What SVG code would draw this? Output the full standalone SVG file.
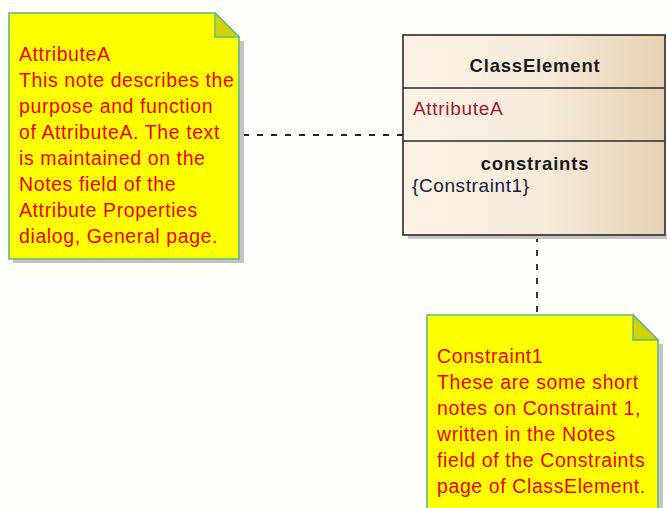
<svg xmlns="http://www.w3.org/2000/svg" width="667" height="508" viewBox="0 0 667 508">
<defs>
<linearGradient id="cls" x1="0" y1="0" x2="1" y2="0">
<stop offset="0" stop-color="#FCF3E6"/>
<stop offset="0.55" stop-color="#F6EADA"/>
<stop offset="1" stop-color="#E6D1B3"/>
</linearGradient>
<style>
.note{fill:#FFFF00;stroke:#5DB98C;stroke-width:1.6}
.fold{fill:#D2D200;stroke:#5DB98C;stroke-width:1.4}
.shadow{fill:#C4C4C4}
.nt{font-family:"Liberation Sans",Arial,sans-serif;font-size:19.5px;fill:#F20000;letter-spacing:0.6px}
.conn{stroke:#222;stroke-width:1.8;stroke-dasharray:6 8;fill:none}
.box{stroke:#2a2a2a;stroke-width:1.6}
.hd{font-family:"Liberation Sans",Arial,sans-serif;font-size:18.5px;font-weight:bold;fill:#1a1a1a;letter-spacing:0.8px}
.at{font-family:"Liberation Sans",Arial,sans-serif;font-size:19px;fill:#A01A32;letter-spacing:0.7px}
.ct{font-family:"Liberation Sans",Arial,sans-serif;font-size:19px;fill:#1a1a3a;letter-spacing:0.6px}
</style>
</defs>
<rect width="667" height="508" fill="#FFFEF8"/>
<g id="connectors">
<line class="conn" x1="243" y1="135" x2="403" y2="135"/>
<line class="conn" x1="537" y1="236" x2="537" y2="315"/>
</g>
<g id="note-attributeA">
<path class="shadow" d="M13 263 V259 H239 V41 H244 V263 Z"/>
<path class="note" d="M9 13 H215 L239 37 V259 H9 Z"/>
<path class="fold" d="M215 13 V37 H239 Z"/>
<text class="nt" x="19" y="61">AttributeA</text>
<text class="nt" x="19" y="87">This note describes the</text>
<text class="nt" x="19" y="113">purpose and function</text>
<text class="nt" x="19" y="139">of AttributeA. The text</text>
<text class="nt" x="19" y="165">is maintained on the</text>
<text class="nt" x="19" y="191">Notes field of the</text>
<text class="nt" x="19" y="217">Attribute Properties</text>
<text class="nt" x="19" y="243">dialog, General page.</text>
</g>
<g id="class-ClassElement">
<rect class="shadow" x="408" y="234" width="259" height="5"/>
<rect class="box" x="403" y="35" width="262" height="200" fill="url(#cls)"/>
<line class="box" x1="403" y1="88" x2="665" y2="88"/>
<line class="box" x1="403" y1="141" x2="665" y2="141"/>
<text class="hd" x="535" y="72" text-anchor="middle">ClassElement</text>
<text class="at" x="413" y="115">AttributeA</text>
<text class="hd" x="535" y="170" text-anchor="middle">constraints</text>
<text class="ct" x="412" y="192">{Constraint1}</text>
</g>
<g id="note-constraint1">
<path class="shadow" d="M658 344 H663 V508 H658 Z"/>
<path class="note" d="M427 508 V315 H633 L658 340 V508"/>
<path class="fold" d="M633 315 V340 H658 Z"/>
<text class="nt" x="437" y="363">Constraint1</text>
<text class="nt" x="437" y="389">These are some short</text>
<text class="nt" x="437" y="415">notes on Constraint 1,</text>
<text class="nt" x="437" y="441">written in the Notes</text>
<text class="nt" x="437" y="467">field of the Constraints</text>
<text class="nt" x="437" y="493">page of ClassElement.</text>
</g>
</svg>
